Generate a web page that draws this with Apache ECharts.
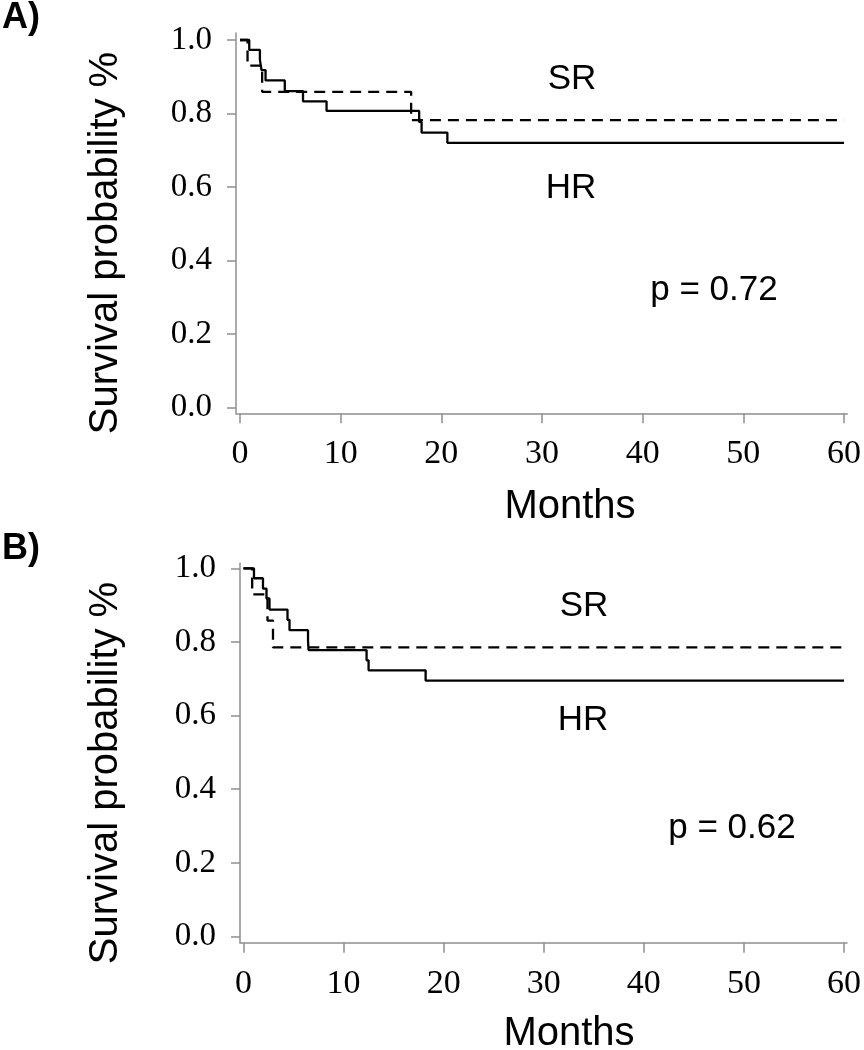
<!DOCTYPE html>
<html><head><meta charset="utf-8">
<script src="https://cdn.jsdelivr.net/npm/echarts@6/dist/echarts.min.js"></script>
<style>html,body{margin:0;padding:0;background:#fff}#c{width:864px;height:1050px}</style>
</head><body><div id="c"></div>
<script>
// ---- data ----
const xTicks = [0, 10, 20, 30, 40, 50, 60];
const yTicks = [0, 0.2, 0.4, 0.6, 0.8, 1.0];
// Panel A
const aHR_months = [0, 0.92, 1.98, 2.14, 2.54, 4.45, 6.26, 8.6, 17.8, 18.04, 20.6, 60];
const aHR_surv   = [1, 0.973, 0.946, 0.918, 0.890, 0.861, 0.833, 0.807, 0.777, 0.748, 0.720, 0.720];
const aSR_months = [0, 0.75, 2.2, 17.0, 60];
const aSR_surv   = [1, 0.930, 0.859, 0.782, 0.782];
// Panel B
const bHR_months = [0, 1.05, 1.95, 2.3, 2.6, 4.4, 4.6, 6.45, 6.5, 12.3, 12.5, 18.2, 60];
const bHR_surv   = [1, 0.973, 0.945, 0.918, 0.888, 0.860, 0.832, 0.805, 0.778, 0.750, 0.723, 0.695, 0.695];
const bSR_months = [0, 0.87, 2.4, 2.95, 60];
const bSR_surv   = [1, 0.929, 0.858, 0.785, 0.785];
const pA = 'p = 0.72', pB = 'p = 0.62';

function pairs(t, s) { return t.map((v, i) => [v, s[i]]); }

// ---- layout ----
const panels = [
  {L: 236, R: 850, T: 33, B: 413.3, x0: 240, x60: 846.7, y1: 40, y0: 407.3},
  {L: 240, R: 853, T: 563.3, B: 942.7, x0: 243.5, x60: 850, y1: 568.3, y0: 936.5}
];
const grids = [], xAxes = [], yAxes = [];
const axisCol = '#8f8f8f';
panels.forEach((p, i) => {
  const kx = 60 / (p.x60 - p.x0), ky = 1 / (p.y0 - p.y1);
  grids.push({left: p.L, top: p.T, width: p.R - p.L, height: p.B - p.T, containLabel: false});
  xAxes.push({
    type: 'value', gridIndex: i,
    min: (p.L - p.x0) * kx, max: (p.R - p.x0) * kx,
    axisLine: {show: true, onZero: false, lineStyle: {color: axisCol, width: 1.5}},
    axisTick: {show: true, length: 10, customValues: xTicks, lineStyle: {color: axisCol, width: 1.5}},
    axisLabel: {customValues: xTicks, margin: 24, color: '#000', fontFamily: 'Liberation Serif', fontSize: 34,
      formatter: v => String(Math.round(v))},
    splitLine: {show: false}
  });
  yAxes.push({
    type: 'value', gridIndex: i,
    min: (p.y0 - p.B) * ky, max: (p.y0 - p.T) * ky,
    axisLine: {show: true, onZero: false, lineStyle: {color: axisCol, width: 1.5}},
    axisTick: {show: true, length: 9, customValues: yTicks, lineStyle: {color: axisCol, width: 1.5}},
    axisLabel: {customValues: yTicks, margin: 24, color: '#000', fontFamily: 'Liberation Serif', fontSize: 33,
      padding: [12, 0, 0, 0], formatter: v => v.toFixed(1)},
    splitLine: {show: false}
  });
});

function km(data, gi, dashed) {
  return {
    type: 'line', step: 'end', xAxisIndex: gi, yAxisIndex: gi, data: data,
    symbol: 'none', silent: true, animation: false,
    lineStyle: {color: '#000', width: 2.3, type: dashed ? [11, 7] : 'solid'}
  };
}

const sans = 'Liberation Sans, Arial, sans-serif';
function txt(x, y, s, size, extra) {
  return Object.assign({type: 'text', x: x, y: y, style: {text: s, font: (extra && extra.bold ? 'bold ' : '') + size + 'px ' + sans,
    fill: '#000', align: 'center', verticalAlign: 'middle'}}, extra && extra.rot ? {rotation: Math.PI / 2} : {});
}

const chart = echarts.init(document.getElementById('c'), null, {renderer: 'canvas'});
chart.setOption({
  backgroundColor: '#fff',
  animation: false,
  grid: grids, xAxis: xAxes, yAxis: yAxes,
  series: [
    km(pairs(aHR_months, aHR_surv), 0, false),
    km(pairs(aSR_months, aSR_surv), 0, true),
    km(pairs(bHR_months, bHR_surv), 1, false),
    km(pairs(bSR_months, bSR_surv), 1, true)
  ],
  graphic: [
    txt(21, 18, 'A)', 36, {bold: true}),
    txt(21, 549, 'B)', 36, {bold: true}),
    txt(106, 243, 'Survival probability %', 40, {rot: true}),
    txt(106, 773, 'Survival probability %', 40, {rot: true}),
    txt(570, 507, 'Months', 40),
    txt(569, 1034, 'Months', 40),
    txt(572, 79, 'SR', 35),
    txt(571, 188, 'HR', 35),
    txt(714, 290, pA, 35),
    txt(584, 606, 'SR', 35),
    txt(583, 720, 'HR', 35),
    txt(732, 828, pB, 35)
  ]
});
</script></body></html>
